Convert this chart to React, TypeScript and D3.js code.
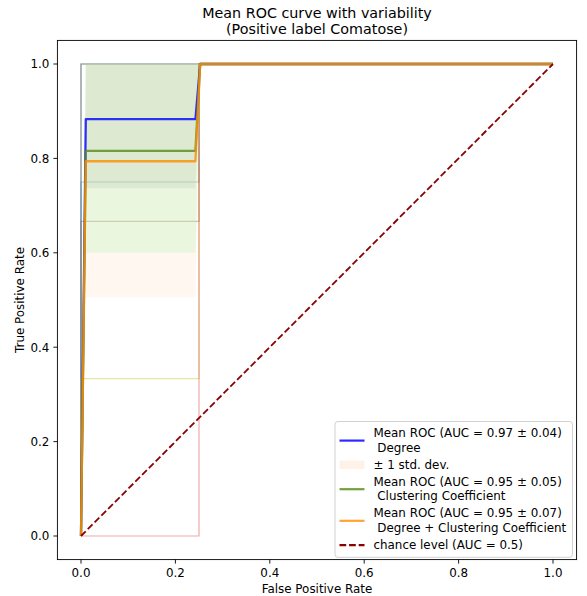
import React from "react";
import * as d3 from "d3";

// ---- data ----
const xTicks = [0.0, 0.2, 0.4, 0.6, 0.8, 1.0];
const yTicks = [0.0, 0.2, 0.4, 0.6, 0.8, 1.0];

// mean curve vertices (interpolated mean ROC, mean_fpr grid points where it changes)
const meanFpr = [0, 0.0101, 0.2424, 0.2525, 1.0];
const meanDegree = [0, 0.883, 0.883, 1.0, 1.0];
const meanClustering = [0, 0.816, 0.816, 1.0, 1.0];
const meanBoth = [0, 0.794, 0.794, 1.0, 1.0];

// std band edges
const lowerDegree = [0, 0.737, 0.737, 1.0, 1.0];
const lowerClustering = [0, 0.6, 0.6, 1.0, 1.0];
const lowerBoth = [0, 0.506, 0.506, 1.0, 1.0];
const upperAll = [0, 1.0, 1.0, 1.0, 1.0];

// per-fold curves: tpr reached at fpr = 0, second step at fpr = 0.25
const foldTpr = [1.0, 1.0, 1.0, 0.75, 0.6667, 0.3333, 0.0];
const foldColors = ["#7f7f7f", "#2ca02c", "#9467bd", "#1f77b4", "#8c564b", "#bcbd22", "#d62728"];
const foldStep = 0.25;

const chanceX = [0, 1];
const chanceY = [0, 1];

const legendItems = [
  { kind: "line", color: "#2b2bff", lines: ["Mean ROC (AUC = 0.97 \u00b1 0.04)", " Degree"] },
  { kind: "patch", color: "#fff3e8", lines: ["\u00b1 1 std. dev."] },
  { kind: "line", color: "#74a03c", lines: ["Mean ROC (AUC = 0.95 \u00b1 0.05)", " Clustering Coefficient"] },
  { kind: "line", color: "#ffa333", lines: ["Mean ROC (AUC = 0.95 \u00b1 0.07)", " Degree + Clustering Coefficient"] },
  { kind: "dash", color: "#8b0000", lines: ["chance level (AUC = 0.5)"] },
];

const W = 587;
const H = 596;
const margin = { left: 57.4, right: 10.4, top: 40.4, bottom: 36.4 };
const font = "DejaVu Sans, sans-serif";
const fs = 11.9;

export default function App() {
  const x = d3.scaleLinear().domain([-0.05, 1.05]).range([margin.left, W - margin.right]);
  const y = d3.scaleLinear().domain([-0.05, 1.05]).range([H - margin.bottom, margin.top]);

  const line = d3
    .line<[number, number]>()
    .x((d) => x(d[0]))
    .y((d) => y(d[1]));

  const band = (lower: number[]) =>
    d3
      .area<number>()
      .x((_, i) => x(meanFpr[i]))
      .y0((_, i) => y(lower[i]))
      .y1((_, i) => y(upperAll[i]))(meanFpr);

  const curve = (tpr: number[]) => line(meanFpr.map((f, i) => [f, tpr[i]]));

  const foldPath = (t: number) =>
    line([
      [0, 0],
      [0, t],
      [foldStep, t],
      [foldStep, 1],
      [1, 1],
    ]);

  // legend layout
  const lgX = 335;
  const lgY = 421.5;
  const lgW = 237.5;
  const lineH = 14.6;
  let cursor = lgY + 4.5;
  const rows = legendItems.map((it) => {
    const top = cursor;
    const h = it.lines.length * lineH;
    cursor += h + 2.4;
    return { ...it, top, h };
  });
  const lgH = cursor - lgY + 2.5;
  const cx = (margin.left + W - margin.right) / 2;

  return (
    <svg width={W} height={H} style={{ position: "absolute", left: 0, top: 0, background: "#fff" }}>
      <rect width={W} height={H} fill="#fff" />

      {/* folds */}
      <g fill="none" strokeWidth={1.2} strokeOpacity={0.4}>
        {foldTpr.map((t, i) => (
          <path key={i} d={foldPath(t) || ""} stroke={foldColors[i]} />
        ))}
      </g>

      {/* std bands */}
      <path d={band(lowerBoth) || ""} fill="peachpuff" fillOpacity={0.22} />
      <path d={band(lowerClustering) || ""} fill="palegreen" fillOpacity={0.2} />
      <path d={band(lowerDegree) || ""} fill="#9aa890" fillOpacity={0.16} />

      {/* mean curves */}
      <g fill="none" strokeWidth={2.3} strokeLinejoin="round">
        <path d={curve(meanDegree) || ""} stroke="#0000ff" strokeOpacity={0.8} />
        <path d={curve(meanClustering) || ""} stroke="#5a8a1e" strokeOpacity={0.8} />
        <path d={curve(meanBoth) || ""} stroke="#ff8c00" strokeOpacity={0.8} />
      </g>

      {/* chance */}
      <path
        d={line(chanceX.map((v, i) => [v, chanceY[i]])) || ""}
        fill="none"
        stroke="#8b0000"
        strokeWidth={1.8}
        strokeDasharray="6.7 2.9"
      />

      {/* frame */}
      <rect
        x={margin.left}
        y={margin.top}
        width={W - margin.left - margin.right}
        height={H - margin.top - margin.bottom}
        fill="none"
        stroke="#000"
        strokeWidth={0.9}
      />

      {/* axes */}
      <g fontFamily={font} fontSize={fs} fill="#000">
        {xTicks.map((t) => (
          <g key={"x" + t}>
            <line x1={x(t)} x2={x(t)} y1={y(-0.05)} y2={y(-0.05) + 4} stroke="#000" strokeWidth={0.9} />
            <text x={x(t)} y={y(-0.05) + 17} textAnchor="middle">
              {t.toFixed(1)}
            </text>
          </g>
        ))}
        {yTicks.map((t) => (
          <g key={"y" + t}>
            <line x1={margin.left - 4} x2={margin.left} y1={y(t)} y2={y(t)} stroke="#000" strokeWidth={0.9} />
            <text x={margin.left - 8} y={y(t) + 4.3} textAnchor="end">
              {t.toFixed(1)}
            </text>
          </g>
        ))}
        <text x={cx} y={593} textAnchor="middle">
          False Positive Rate
        </text>
        <text transform={`translate(24,${(margin.top + H - margin.bottom) / 2}) rotate(-90)`} textAnchor="middle">
          True Positive Rate
        </text>
      </g>

      {/* title */}
      <g fontFamily={font} fontSize={14.3} textAnchor="middle">
        <text x={cx} y={17.5}>
          Mean ROC curve with variability
        </text>
        <text x={cx} y={33.5}>
          (Positive label Comatose)
        </text>
      </g>

      {/* legend */}
      <rect x={lgX} y={lgY} width={lgW} height={lgH} rx={3} fill="#fff" fillOpacity={0.8} stroke="#cccccc" strokeWidth={0.9} />
      <g fontFamily={font} fontSize={fs}>
        {rows.map((r, i) => {
          const cy = r.top + r.h / 2;
          return (
            <g key={i}>
              {r.kind === "patch" ? (
                <rect x={339.5} y={cy - 4.2} width={25} height={8.4} fill={r.color} />
              ) : (
                <line
                  x1={339.5}
                  x2={364.5}
                  y1={cy}
                  y2={cy}
                  stroke={r.color}
                  strokeWidth={2.2}
                  strokeDasharray={r.kind === "dash" ? "6.7 2.9" : undefined}
                />
              )}
              {r.lines.map((s, j) => (
                <text key={j} x={373.5} y={r.top + j * lineH + 11.2} style={{ whiteSpace: "pre" }}>
                  {s}
                </text>
              ))}
            </g>
          );
        })}
      </g>
    </svg>
  );
}
